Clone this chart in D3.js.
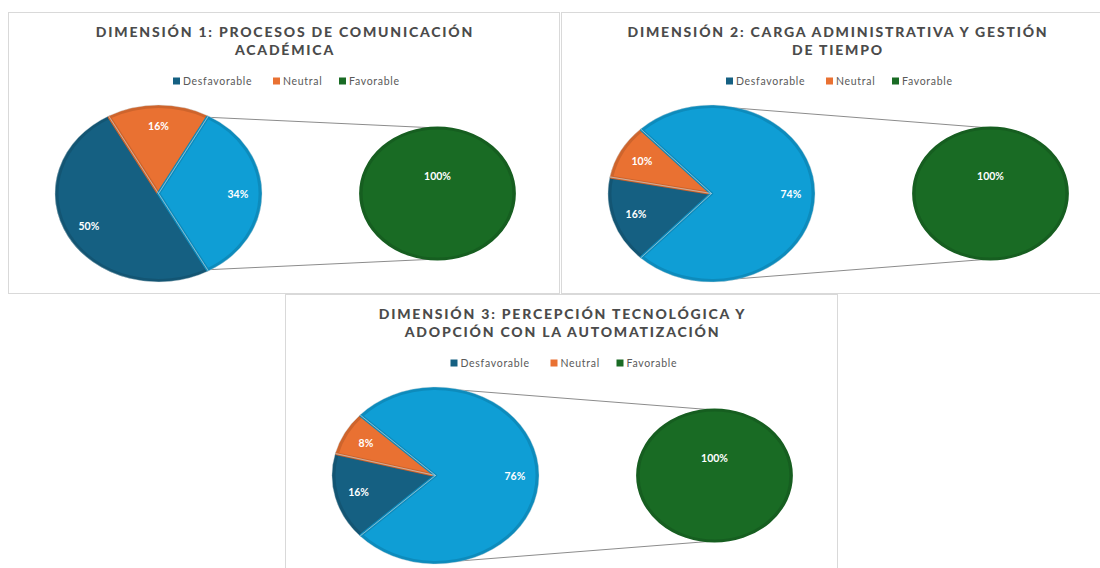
<!DOCTYPE html>
<html>
<head>
<meta charset="utf-8">
<script src="https://cdn.jsdelivr.net/npm/d3@7"></script>
<style>
  body { margin: 0; background: #fff; }
  svg { display: block; }
</style>
</head>
<body>
<svg id="chart" width="1100" height="568"></svg>
<script>
const categories = ['Desfavorable', 'Neutral', 'Favorable']
const titles = [
  ['DIMENSIÓN 1: PROCESOS DE COMUNICACIÓN', 'ACADÉMICA'],
  ['DIMENSIÓN 2: CARGA ADMINISTRATIVA Y GESTIÓN', 'DE TIEMPO'],
  ['DIMENSIÓN 3: PERCEPCIÓN TECNOLÓGICA Y', 'ADOPCIÓN CON LA AUTOMATIZACIÓN']
]
const desfavorable = [50, 16, 16]
const neutral = [16, 10, 8]
const favorable = [34, 74, 76]
const secondary = [100, 100, 100]

const colors = { Desfavorable: '#156082', Neutral: '#E97132', Favorable: '#196B24', other: '#0F9ED5' }

// panel boxes (left, top, width, height)
const panels = [
  { x: 8.5, y: 12.5, w: 551, h: 281 },
  { x: 561.5, y: 12.5, w: 551, h: 281 },
  { x: 285.5, y: 294.5, w: 552, h: 290 }
]

const svg = d3.select('#chart')
const sx = 1.17
const rMain = 87
const rSec = 65.5

panels.forEach((p, i) => {
  const g = svg.append('g').attr('transform', `translate(${p.x},${p.y})`)
  g.append('rect')
    .attr('width', p.w).attr('height', p.h)
    .attr('fill', '#fff').attr('stroke', '#d9d9d9')

  const mid = p.w / 2
  g.selectAll('text.title')
    .data(titles[i])
    .join('text')
    .attr('class', 'title')
    .attr('x', mid + 1)
    .attr('y', (d, k) => 24 + k * 18.5)
    .attr('text-anchor', 'middle')
    .style('font-family', 'Lato')
    .style('font-weight', '900')
    .style('font-size', '14px')
    .style('letter-spacing', '1.8px')
    .style('fill', '#4b4b4b')
    .text(d => d)

  // legend
  const legend = g.append('g').attr('transform', `translate(${mid},${69})`)
  const offs = [-111, -11, 55]
  const items = legend.selectAll('g')
    .data(categories)
    .join('g')
    .attr('transform', (d, k) => `translate(${offs[k]},0)`)
  items.append('rect')
    .attr('x', 0).attr('y', -4).attr('width', 7).attr('height', 7)
    .attr('fill', d => colors[d])
  items.append('text')
    .attr('x', 10).attr('y', 3.5)
    .style('font-family', 'Lato')
    .style('font-size', '10.5px')
    .style('letter-spacing', '0.7px')
    .style('fill', '#595959')
    .text(d => d)

  // main pie
  const cx = 150, cy = 181
  const cx2 = 429
  const values = [
    { key: 'Desfavorable', v: desfavorable[i] },
    { key: 'Neutral', v: neutral[i] },
    { key: 'other', v: favorable[i] }
  ]
  const total = d3.sum(values, d => d.v)
  const otherAngle = favorable[i] / total * 2 * Math.PI
  const a0 = Math.PI / 2 + otherAngle / 2
  const pie = d3.pie().sort(null).value(d => d.v).startAngle(a0).endAngle(a0 + 2 * Math.PI)
  const arcs = pie(values)
  const arc = d3.arc().innerRadius(0).outerRadius(rMain)

  // connector lines
  const otherArc = arcs[2]
  let t0, t1
  if (otherArc.endAngle - otherArc.startAngle < Math.PI) {
    t0 = otherArc.startAngle; t1 = otherArc.endAngle
  } else {
    t0 = 0.07; t1 = Math.PI - 0.07
  }
  const pt = a => [cx + sx * rMain * Math.sin(a), cy - rMain * Math.cos(a)]
  const p0 = pt(t0), p1 = pt(t1)
  g.append('line')
    .attr('x1', p0[0]).attr('y1', p0[1]).attr('x2', cx2).attr('y2', cy - rSec)
    .attr('stroke', '#8c8c8c').attr('stroke-width', 1)
  g.append('line')
    .attr('x1', p1[0]).attr('y1', p1[1]).attr('x2', cx2).attr('y2', cy + rSec)
    .attr('stroke', '#8c8c8c').attr('stroke-width', 1)

  const pg = g.append('g').attr('transform', `translate(${cx},${cy}) scale(${sx},1)`)
  pg.selectAll('path')
    .data(arcs)
    .join('path')
    .attr('d', arc)
    .attr('fill', d => colors[d.data.key])
    .attr('stroke', d => d3.color(colors[d.data.key]).darker(0.35))
    .attr('stroke-width', 3)
    .attr('stroke-linejoin', 'round')
  pg.selectAll('path.sep')
    .data(arcs)
    .join('path')
    .attr('class', 'sep')
    .attr('d', d3.arc().innerRadius(0).outerRadius(rMain + 1.5))
    .attr('fill', 'none')
    .attr('stroke', '#cfd8dc')
    .attr('stroke-width', 0.6)
    .attr('stroke-opacity', 0.6)

  const labelArc = d3.arc().innerRadius(rMain * 0.78).outerRadius(rMain * 0.78)
  g.selectAll('text.lbl')
    .data(arcs)
    .join('text')
    .attr('class', 'lbl')
    .attr('x', d => cx + sx * labelArc.centroid(d)[0])
    .attr('y', d => cy + labelArc.centroid(d)[1] + 4)
    .attr('text-anchor', 'middle')
    .style('font-family', 'Lato')
    .style('font-weight', '700')
    .style('font-size', '10.5px')
    .style('fill', '#fff')
    .text(d => d.data.v + '%')

  // secondary pie
  const secArcs = d3.pie().sort(null).value(d => d)([secondary[i]])
  const sg = g.append('g').attr('transform', `translate(${cx2},${cy}) scale(${sx},1)`)
  sg.selectAll('path')
    .data(secArcs)
    .join('path')
    .attr('d', d3.arc().innerRadius(0).outerRadius(rSec))
    .attr('fill', colors.Favorable)
    .attr('stroke', d3.color(colors.Favorable).darker(0.35))
    .attr('stroke-width', 3)
  g.selectAll('text.sec')
    .data(secArcs)
    .join('text')
    .attr('class', 'sec')
    .attr('x', cx2)
    .attr('y', cy - rSec * 0.27 + 4)
    .attr('text-anchor', 'middle')
    .style('font-family', 'Lato')
    .style('font-weight', '700')
    .style('font-size', '10.5px')
    .style('fill', '#fff')
    .text(d => d.data + '%')
})
</script>
</body>
</html>
